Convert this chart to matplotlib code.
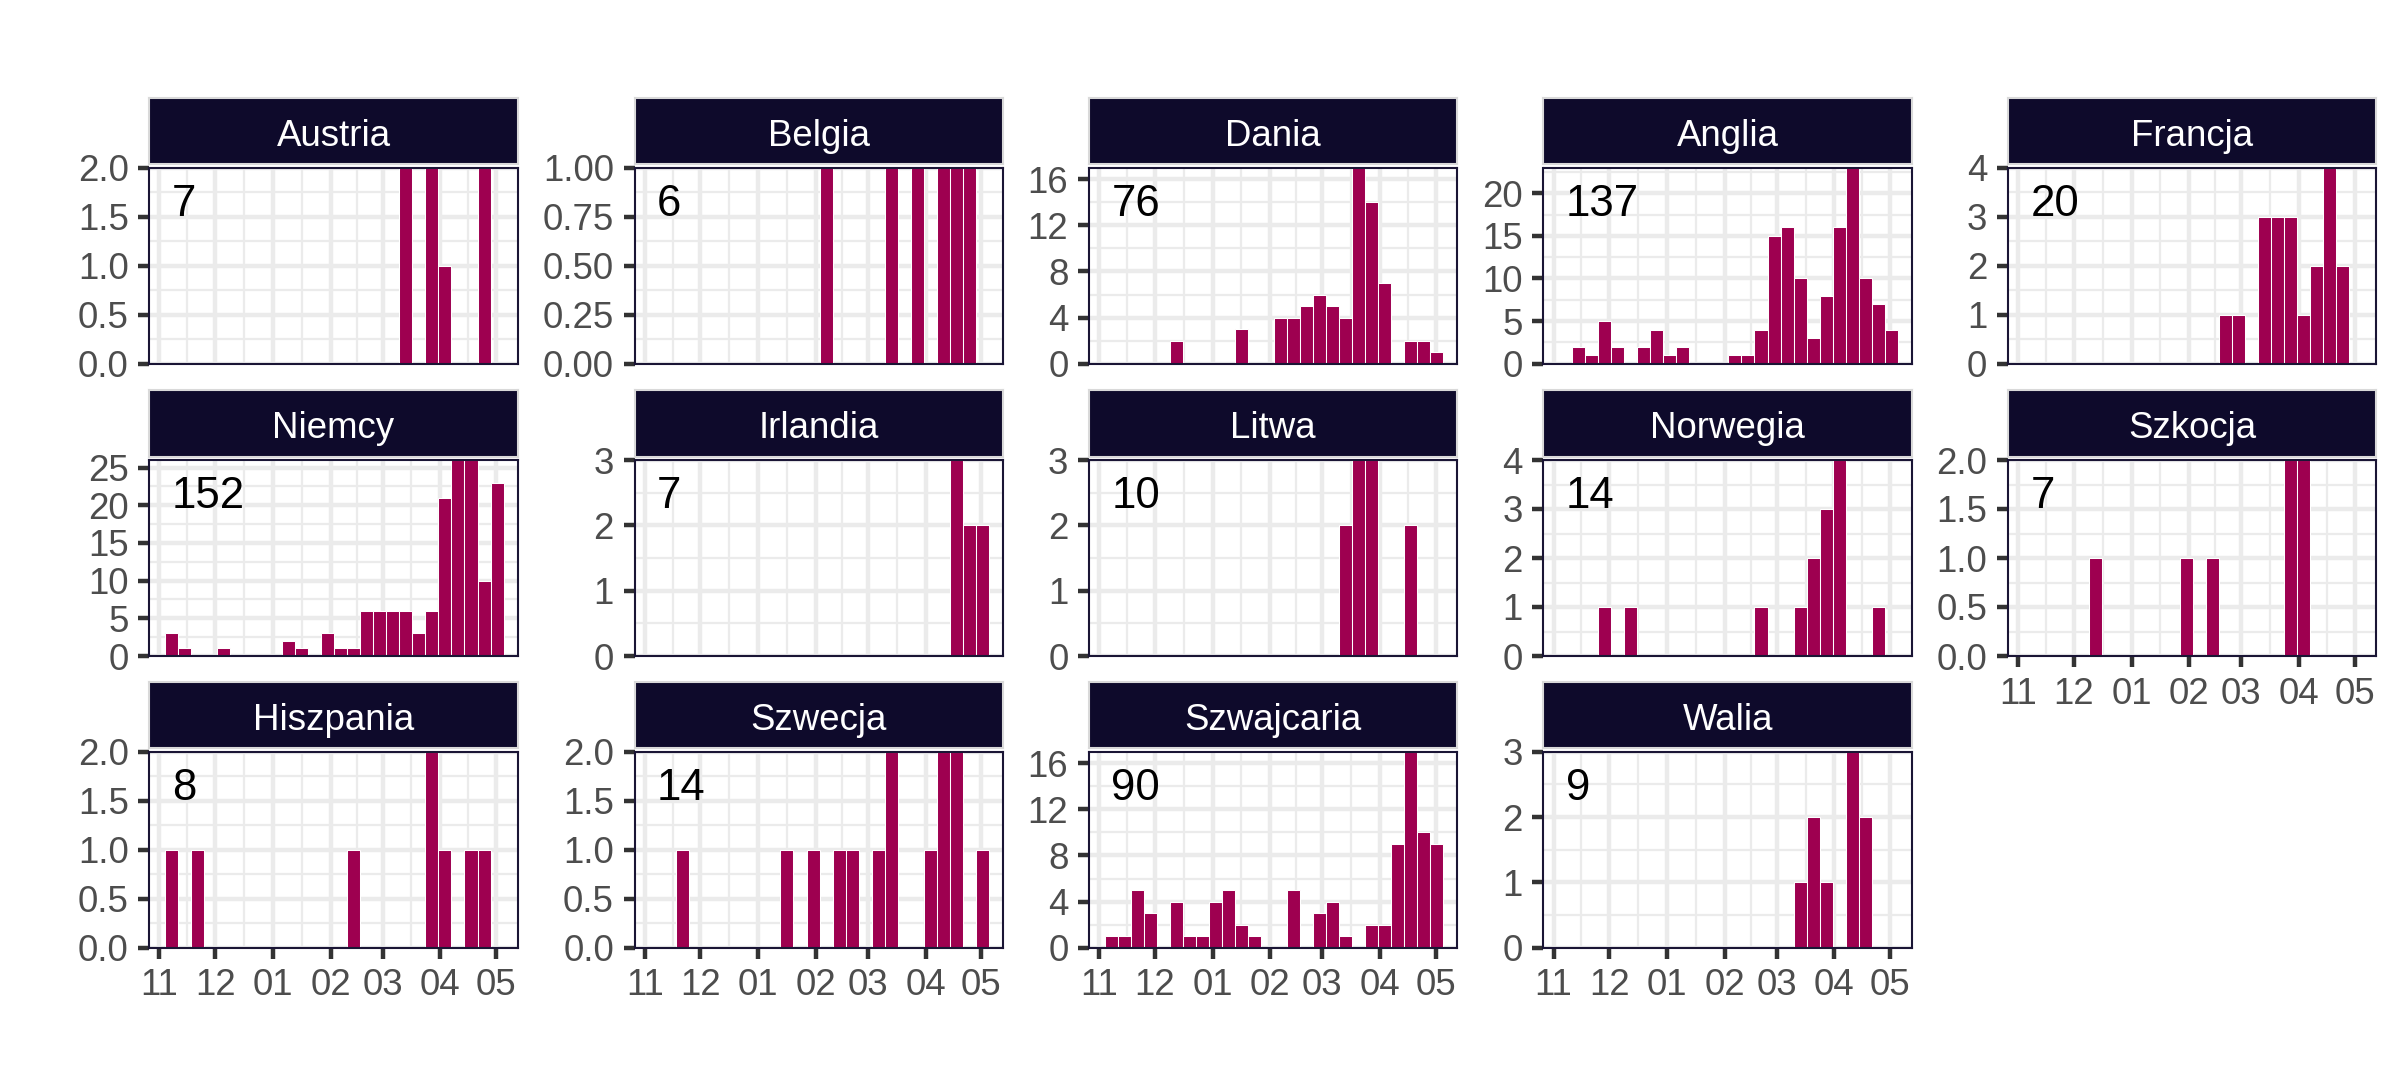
import matplotlib
matplotlib.use('Agg')
from matplotlib import pyplot as plt
import matplotlib.dates as mdates
import numpy as np
import pandas as pd

# weekly bins (start of each week) and month breaks on the x axis
weeks = pd.date_range('2018-11-04', periods=26, freq='7D')
months = pd.date_range('2018-11-01', '2019-05-01', freq='MS')

austria = [0, 0, 0, 0, 0, 0, 0, 0, 0, 0, 0, 0, 0, 0, 0, 0, 0, 0, 2, 0, 2, 1, 0, 0, 2, 0]
belgia = [0, 0, 0, 0, 0, 0, 0, 0, 0, 0, 0, 0, 0, 1, 0, 0, 0, 0, 1, 0, 1, 0, 1, 1, 1, 0]
dania = [0, 0, 0, 0, 0, 2, 0, 0, 0, 0, 3, 0, 0, 4, 4, 5, 6, 5, 4, 17, 14, 7, 0, 2, 2, 1]
anglia = [0, 2, 1, 5, 2, 0, 2, 4, 1, 2, 0, 0, 0, 1, 1, 4, 15, 16, 10, 3, 8, 16, 23, 10, 7, 4]
francja = [0, 0, 0, 0, 0, 0, 0, 0, 0, 0, 0, 0, 0, 0, 0, 1, 1, 0, 3, 3, 3, 1, 2, 4, 2, 0]
niemcy = [3, 1, 0, 0, 1, 0, 0, 0, 0, 2, 1, 0, 3, 1, 1, 6, 6, 6, 6, 3, 6, 21, 26, 26, 10, 23]
irlandia = [0, 0, 0, 0, 0, 0, 0, 0, 0, 0, 0, 0, 0, 0, 0, 0, 0, 0, 0, 0, 0, 0, 0, 3, 2, 2]
litwa = [0, 0, 0, 0, 0, 0, 0, 0, 0, 0, 0, 0, 0, 0, 0, 0, 0, 0, 2, 3, 3, 0, 0, 2, 0, 0]
norwegia = [0, 0, 0, 1, 0, 1, 0, 0, 0, 0, 0, 0, 0, 0, 0, 1, 0, 0, 1, 2, 3, 4, 0, 0, 1, 0]
szkocja = [0, 0, 0, 0, 0, 1, 0, 0, 0, 0, 0, 0, 1, 0, 1, 0, 0, 0, 0, 0, 2, 2, 0, 0, 0, 0]
hiszpania = [1, 0, 1, 0, 0, 0, 0, 0, 0, 0, 0, 0, 0, 0, 1, 0, 0, 0, 0, 0, 2, 1, 0, 1, 1, 0]
szwecja = [0, 0, 1, 0, 0, 0, 0, 0, 0, 0, 1, 0, 1, 0, 1, 1, 0, 1, 2, 0, 0, 1, 2, 2, 0, 1]
szwajcaria = [1, 1, 5, 3, 0, 4, 1, 1, 4, 5, 2, 1, 0, 0, 5, 0, 3, 4, 1, 0, 2, 2, 9, 17, 10, 9]
walia = [0, 0, 0, 0, 0, 0, 0, 0, 0, 0, 0, 0, 0, 0, 0, 0, 0, 0, 1, 2, 1, 0, 3, 2, 0, 0]

panels = [('Austria', austria), ('Belgia', belgia), ('Dania', dania), ('Anglia', anglia),
          ('Francja', francja), ('Niemcy', niemcy), ('Irlandia', irlandia), ('Litwa', litwa),
          ('Norwegia', norwegia), ('Szkocja', szkocja), ('Hiszpania', hiszpania),
          ('Szwecja', szwecja), ('Szwajcaria', szwajcaria), ('Walia', walia)]

BAR = '#9E0050'
NAVY = '#0E0A2B'
GRID = '#EBEBEB'

plt.rcParams['font.family'] = ['Liberation Sans', 'DejaVu Sans']

W, H = 2400, 1080
col_left = [149.3, 634.6, 1089, 1543.5, 2008]
row_top = [167.7, 460, 751.7]
pw, ph = 368.4, 196
sh, sgap = 66.3, 3.3


def nice_ticks(top):
    best = None
    for step in [0.25, 0.5, 1, 2, 4, 5, 10]:
        n = int(np.floor(top / step + 1e-9)) + 1
        score = abs(n - 5)
        if best is None or score < best[0]:
            best = (score, step)
    return best[1]


fig = plt.figure(figsize=(8, 3.6), dpi=300)

xw = mdates.date2num(weeks)
xm = mdates.date2num(months)
x_minor = (xm[:-1] + xm[1:]) / 2
xlim = (xm[0] - 5.4, xm[-1] + 11.6)

for i, (name, vals) in enumerate(panels):
    r, c = divmod(i, 5)
    left = col_left[c] / W
    bottom = 1 - (row_top[r] + ph) / H
    ax = fig.add_axes([left, bottom, pw / W, ph / H])
    sax = fig.add_axes([left, 1 - (row_top[r] - sgap) / H, pw / W, sh / H])

    vals = np.array(vals)
    m = vals > 0
    ax.set_axisbelow(True)
    ax.bar(xw[m], vals[m], width=7, align='edge', color=BAR,
           edgecolor='white', linewidth=0.25)

    top = vals.max()
    step = nice_ticks(top)
    yt = np.arange(0, top + 1e-9, step)
    ym = np.arange(step / 2, top + 1e-9, step)
    dec = 2 if step == 0.25 else (1 if step == 0.5 else 0)
    ax.set_ylim(0, top)
    ax.set_yticks(yt)
    ax.set_yticklabels([f'{v:.{dec}f}' for v in yt])
    ax.set_yticks(ym, minor=True)

    ax.set_xlim(*xlim)
    ax.set_xticks(xm)
    ax.set_xticks(x_minor, minor=True)
    ax.set_xticklabels(months.strftime('%m'))

    ax.grid(which='major', color=GRID, linewidth=1.07)
    ax.grid(which='minor', color=GRID, linewidth=0.53)
    ax.tick_params(which='major', length=2.75, width=1.07, color='#333333',
                   labelsize=8.8, labelcolor='#4D4D4D', pad=2.2)
    ax.tick_params(which='minor', length=0)
    if not (r == 2 or i == 9):
        ax.tick_params(axis='x', which='major', length=0, labelbottom=False)

    for s in ax.spines.values():
        s.set_color('#1A1535')
        s.set_linewidth(0.5)

    ax.text(0.061, 0.754, str(vals.sum()), transform=ax.transAxes,
            fontsize=10.5, ha='left', va='baseline', color='black')

    sax.set_facecolor(NAVY)
    sax.set_xticks([])
    sax.set_yticks([])
    for s in sax.spines.values():
        s.set_color('#D9D9D9')
        s.set_linewidth(0.5)
    sax.text(0.5, 0.285, name, transform=sax.transAxes, color='white',
             fontsize=8.8, ha='center', va='baseline')

fig.savefig('out.png', dpi=300)
